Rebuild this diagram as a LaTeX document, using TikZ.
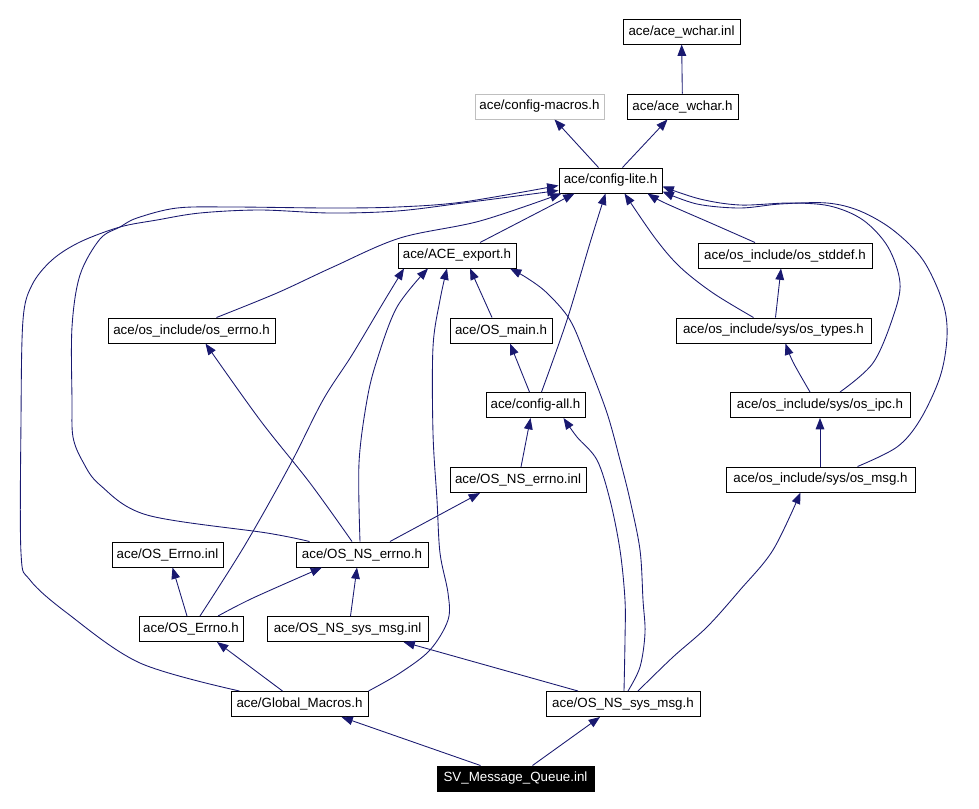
\documentclass[tikz,border=0pt]{standalone}
\usepackage{fontspec}
\setmainfont{Liberation Sans}
\usetikzlibrary{arrows.meta,calc}
\definecolor{edgeblue}{RGB}{25,25,112}
\definecolor{lightborder}{RGB}{191,191,191}
\begin{document}
\begin{tikzpicture}[x=0.75pt,y=-0.75pt,
  box/.style={draw=black,line width=0.75pt,fill=white,inner sep=0pt,minimum height=18.75pt,minimum width=#1*0.75pt,font=\fontsize{10pt}{12pt}\selectfont},
  graybox/.style={box=#1,draw=lightborder},
  rootbox/.style={box=#1,fill=black,text=white},
  edge/.style={draw=edgeblue,line width=0.65pt,-{Triangle[length=8.5pt,width=6.5pt]}},
  sm/.style={smooth,tension=0.55}]
\useasboundingbox (0,0) rectangle (979,808);
% nodes
\node[box=117] (wcharinl) at (681.5,31.5) {ace/ace\_wchar.inl};
\node[graybox=129] (cfgmacros) at (539.5,106.5) {ace/config-macros.h};
\node[box=111] (wcharh) at (682.5,106.5) {ace/ace\_wchar.h};
\node[box=103] (cfglite) at (610.5,180.5) {ace/config-lite.h};
\node[box=118] (aceexport) at (457,255.5) {ace/ACE\_export.h};
\node[box=174] (osstddef) at (785,255.5) {ace/os\_include/os\_stddef.h};
\node[box=167] (oserrno) at (191.5,330.5) {ace/os\_include/os\_errno.h};
\node[box=102] (osmain) at (501,330.5) {ace/OS\_main.h};
\node[box=195] (ostypes) at (773.5,330.5) {ace/os\_include/sys/os\_types.h};
\node[box=99] (cfgall) at (535.5,405) {ace/config-all.h};
\node[box=180] (osipc) at (820,405) {ace/os\_include/sys/os\_ipc.h};
\node[box=136] (nserrnoinl) at (518,480) {ace/OS\_NS\_errno.inl};
\node[box=189] (osmsg) at (820.5,479.5) {ace/os\_include/sys/os\_msg.h};
\node[box=111] (OSErrnoinl) at (167.5,554.5) {ace/OS\_Errno.inl};
\node[box=132] (nserrnoh) at (362,554.5) {ace/OS\_NS\_errno.h};
\node[box=104] (OSErrnoh) at (191,629) {ace/OS\_Errno.h};
\node[box=161] (nssysmsginl) at (347.5,629) {ace/OS\_NS\_sys\_msg.inl};
\node[box=137] (gm) at (299.5,704) {ace/Global\_Macros.h};
\node[box=154] (nssysmsgh) at (623,704) {ace/OS\_NS\_sys\_msg.h};
\node[rootbox=157] (svmq) at (515.5,778.5) {SV\_Message\_Queue.inl};
% edges
\draw[edge] (wcharh) -- (wcharinl);
\draw[edge] ($(cfglite.north)+(-12,0)$) -- ($(cfgmacros.south)+(15,0)$);
\draw[edge] ($(cfglite.north)+(12,0)$) -- ($(wcharh.south)+(-15,0)$);
\draw[edge] ($(aceexport.north)+(23,0)$) -- ($(cfglite.south)+(-36,0)$);
\draw[edge] plot[sm] coordinates {($(oserrno.north)+(25,0)$) (277,293) (333,267) (400,238) (480,221) ($(cfglite.south west)+(3,0)$)};
\draw[edge] ($(osmain.north)+(-9,0)$) -- ($(aceexport.south)+(13,0)$);
\draw[edge] plot[sm] coordinates {($(cfgall.north)+(6,0)$) (567,320) (590,243) ($(cfglite.south)+(-5,0)$)};
\draw[edge] ($(cfgall.north)+(-6,0)$) -- ($(osmain.south)+(9,0)$);
\draw[edge] plot[sm] coordinates {($(osstddef.north)+(-30,0)$) (713,224) (665,203) ($(cfglite.south)+(37,0)$)};
\draw[edge] plot[sm] coordinates {($(ostypes.north)+(-20,0)$) (713,293) (680,267) (655,238) ($(cfglite.south)+(14,0)$)};
\draw[edge] ($(ostypes.north)+(2,0)$) -- ($(osstddef.south)+(-4,0)$);
\draw[edge] plot[sm] coordinates {($(osipc.north)+(-10,0)$) (793,362) ($(ostypes.south)+(12,0)$)};
\draw[edge] plot[sm] coordinates {($(osipc.north)+(20,0)$) (873,363) (893,317) (900,283) (888,247) (863,220) (830,206) (790,203) (740,205) (700,199) ($(cfglite.east)+(0,6)$)};
\draw[edge] ($(osmsg.north)+(-0.5,0)$) -- (osipc.south);
\draw[edge] plot[sm] coordinates {($(osmsg.north)+(37,0)$) (897,447) (920,420) (940,377) (947,337) (943,303) (923,260) (893,230) (860,211) (827,203) (780,204) (740,208) (697,204) ($(cfglite.east)+(0,11)$)};
\draw[edge] ($(nserrnoinl.north)+(3,0)$) -- ($(cfgall.south)+(-5,0)$);
\draw[edge] ($(nserrnoh.north)+(28,0)$) -- ($(nserrnoinl.south)+(-38,0)$);
\draw[edge] plot[sm] coordinates {($(nserrnoh.north)+(-10,0)$) (310,483) (260,420) ($(oserrno.south)+(14,0)$)};
\draw[edge] plot[sm] coordinates {($(nserrnoh.north)+(-2,0)$) (359,463) (367,400) (377,360) (397,307) ($(aceexport.south)+(-29,0)$)};
\draw[edge] plot[sm] coordinates {($(nserrnoh.north west)+(14,0)$) (267,533) (147,515) (100,485) (83,462) (73,437) (72,400) (72,327) (80,275) (100,239) (120,227) (137,218) (177,208) (233,207) (330,208) (397,207) (463,202) ($(cfglite.west)+(0,5)$)};
\draw[edge] ($(OSErrnoh.north)+(-4,0)$) -- ($(OSErrnoinl.south)+(5,0)$);
\draw[edge] plot[sm] coordinates {($(OSErrnoh.north)+(27,0)$) (253,598) ($(nserrnoh.south)+(-40,0)$)};
\draw[edge] plot[sm] coordinates {($(OSErrnoh.north)+(9,0)$) (245,545) (290,465) (323,400) (352,355) (383,303) ($(aceexport.south)+(-53,0)$)};
\draw[edge] ($(nssysmsginl.north)+(3,0)$) -- ($(nserrnoh.south)+(-5,0)$);
\draw[edge] ($(gm.north)+(-17,0)$) -- ($(OSErrnoh.south)+(26,0)$);
\draw[edge] plot[sm] coordinates {($(gm.north west)+(9,0)$) (140,663) (67,613) (30,580) (21,553) (21,420) (23,320) (32,285) (52,260) (80,242) (120,227) (157,220) (200,213) (260,210) (330,213) (397,211) (463,203) ($(cfglite.west)+(0,10)$)};
\draw[edge] plot[sm] coordinates {(gm.north east) (400,673) (430,650) (448,620) (448,593) (440,553) (437,500) (433,433) (433,347) (440,300) ($(aceexport.south)+(-10,0)$)};
\draw[edge] ($(nssysmsgh.north)+(-45,0)$) -- ($(nssysmsginl.south)+(56,0)$);
\draw[edge] plot[sm] coordinates {($(nssysmsgh.north)+(1,0)$) (625,640) (625,600) (620,550) (610,500) (597,460) (577,437) ($(cfgall.south)+(28,0)$)};
\draw[edge] plot[sm] coordinates {($(nssysmsgh.north)+(5,0)$) (640,667) (645,633) (643,600) (640,550) (630,500) (620,460) (607,413) (587,360) (570,320) (547,293) (527,278) ($(aceexport.south)+(53,0)$)};
\draw[edge] plot[sm] coordinates {($(nssysmsgh.north)+(15,0)$) (673,657) (707,627) (740,590) (773,550) ($(osmsg.south)+(-20,0)$)};
\draw[edge] ($(svmq.north)+(-35,0)$) -- ($(gm.south)+(42,0)$);
\draw[edge] ($(svmq.north)+(17,0)$) -- ($(nssysmsgh.south)+(-23,0)$);
\end{tikzpicture}
\end{document}
